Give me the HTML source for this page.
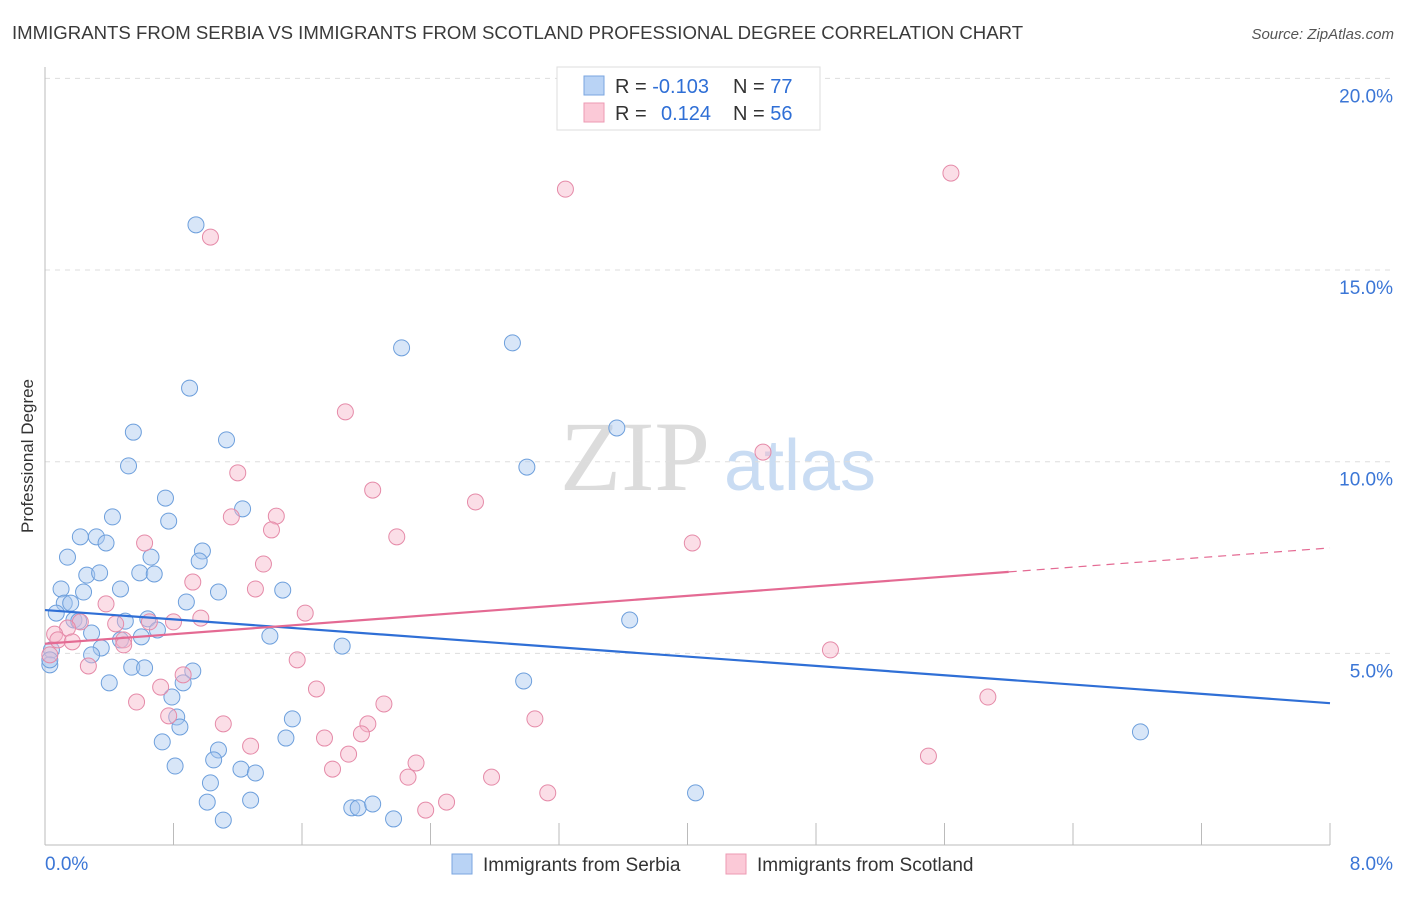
<!DOCTYPE html>
<html><head><meta charset="utf-8"><style>
body{margin:0;background:#fff;font-family:"Liberation Sans",sans-serif;}
svg text{font-family:"Liberation Sans",sans-serif;}
</style></head><body>
<svg id="chart" width="1406" height="892" viewBox="0 0 1406 892" xmlns="http://www.w3.org/2000/svg">
<text x="12" y="39" font-size="18.6" fill="#3a3a3a">IMMIGRANTS FROM SERBIA VS IMMIGRANTS FROM SCOTLAND PROFESSIONAL DEGREE CORRELATION CHART</text>
<text x="1394" y="39" font-size="15" fill="#555" text-anchor="end" font-style="italic">Source: ZipAtlas.com</text>
<text x="635" y="490" font-size="100" fill="#dcdcdc" text-anchor="middle" font-family="Liberation Serif" style="font-family:'Liberation Serif',serif">ZIP</text>
<text x="800" y="490" font-size="72" fill="#c9dcf3" text-anchor="middle">atlas</text>
<g id="grid"></g>
<g id="axes"></g>
<g id="marks"></g>
<text transform="translate(33,456) rotate(-90)" font-size="17" fill="#333" text-anchor="middle">Professional Degree</text>
<g>
<rect x="557" y="67" width="263" height="63" fill="#fff" stroke="#ddd"/>
<rect x="584" y="76" width="20" height="19" fill="#b9d3f5" stroke="#7aa6e0"/>
<rect x="584" y="103" width="20" height="19" fill="#fbc9d7" stroke="#ec9ab3"/>
<text x="615" y="93" font-size="20" fill="#333">R = <tspan fill="#2f6fd6">-0.103</tspan></text>
<text x="733" y="93" font-size="20" fill="#333">N = <tspan fill="#2f6fd6">77</tspan></text>
<text x="615" y="120" font-size="20" fill="#333">R = <tspan fill="#2f6fd6" x="661">0.124</tspan></text>
<text x="733" y="120" font-size="20" fill="#333">N = <tspan fill="#2f6fd6">56</tspan></text>
</g>
<g>
<rect x="452" y="854" width="20" height="20" fill="#b9d3f5" stroke="#7aa6e0"/>
<text x="483" y="871" font-size="19" fill="#333">Immigrants from Serbia</text>
<rect x="726" y="854" width="20" height="20" fill="#fbc9d7" stroke="#ec9ab3"/>
<text x="757" y="871" font-size="19" fill="#333">Immigrants from Scotland</text>
</g>
</svg>
<script>
const blueX=[0.94,0.90,0.55,0.52,1.13,0.75,0.77,1.23,0.42,0.22,0.32,0.38,0.14,0.66,0.98,0.96,0.26,0.34,0.59,0.68,0.10,0.47,0.12,0.16,0.88,1.08,1.48,0.24,0.07,0.18,0.21,0.50,0.64,0.70,0.29,0.47,0.60,1.40,1.85,0.35,0.29,0.04,0.03,0.54,0.62,0.92,0.40,0.86,0.79,0.82,0.84,1.54,0.73,1.50,1.08,1.05,0.81,1.22,1.31,1.03,1.01,1.28,2.22,2.91,3.56,3.00,3.64,2.98,6.82,4.05,1.91,1.95,2.04,2.17,1.11,0.03];
const blueY=[16.18,11.92,10.77,9.89,10.57,9.05,8.45,8.77,8.56,8.04,8.04,7.88,7.51,7.51,7.67,7.41,7.04,7.10,7.10,7.07,6.68,6.68,6.31,6.31,6.34,6.60,6.65,6.60,6.05,5.87,5.84,5.84,5.90,5.61,5.53,5.35,5.43,5.45,5.19,5.14,4.96,5.09,4.70,4.64,4.62,4.54,4.23,4.23,3.86,3.34,3.08,3.29,2.69,2.79,2.48,2.22,2.06,1.98,1.88,1.62,1.12,1.17,12.97,13.10,10.88,9.86,5.87,4.28,2.95,1.36,0.97,0.97,1.07,0.68,0.65,4.83];
const pinkX=[3.24,5.64,1.03,1.87,4.47,1.20,2.04,2.68,1.16,1.44,1.41,2.19,0.62,4.03,1.36,0.92,1.31,0.38,1.62,0.97,0.80,0.44,0.22,0.65,0.14,0.06,0.08,0.17,0.49,4.89,1.57,0.27,0.86,0.72,1.69,0.57,2.11,0.77,1.11,2.01,3.05,1.97,1.74,1.28,1.89,5.50,1.79,2.31,2.26,2.78,3.13,2.50,2.37,5.87,0.03,0.49];
const pinkY=[17.11,17.53,15.86,11.30,10.25,9.71,9.26,8.95,8.56,8.58,8.22,8.04,7.88,7.88,7.33,6.86,6.68,6.29,6.05,5.92,5.82,5.77,5.82,5.82,5.66,5.50,5.35,5.30,5.35,5.09,4.83,4.67,4.44,4.12,4.07,3.73,3.68,3.37,3.16,3.16,3.29,2.90,2.79,2.58,2.37,2.32,1.98,2.14,1.77,1.77,1.36,1.12,0.91,3.86,4.96,5.22];
const blueTrend=[6.13,3.70];
const pinkTrend=[5.25,7.75];
const pinkSolidEnd=6.0;
const yTicks=[5,10,15,20];
const yTickLabels=["5.0%","10.0%","15.0%","20.0%"];
const xTicks=[0,0.8,1.6,2.4,3.2,4.0,4.8,5.6,6.4,7.2,8.0];
const NS="http://www.w3.org/2000/svg";
const X=v=>45+v*(1285/8);
const Y=v=>845-v*38.33;
function mk(tag,attrs,parent){const e=document.createElementNS(NS,tag);for(const k in attrs)e.setAttribute(k,attrs[k]);parent.appendChild(e);return e;}
const grid=document.getElementById('grid'),axes=document.getElementById('axes'),marks=document.getElementById('marks');
yTicks.forEach((t,i)=>{
 const l=mk('line',{x1:45,x2:1394,y1:Y(t),y2:Y(t),stroke:'#ddd','stroke-dasharray':'5,5'},grid);
 
 
 const tx=mk('text',{x:1393,y:Y(t)+24,'font-size':19,fill:'#3b76d6','text-anchor':'end'},axes);
 tx.textContent=yTickLabels[i];
 
 
});
const ax=mk('line',{x1:45,x2:45,y1:67,y2:845,stroke:'#bbb'},axes);


const bx=mk('line',{x1:45,x2:1330,y1:845,y2:845,stroke:'#bbb'},axes);


xTicks.forEach(t=>{
 const l=mk('line',{x1:X(t),x2:X(t),y1:823,y2:845,stroke:'#bbb'},axes);
 
 
});
const xl0=mk('text',{x:45,y:870,'font-size':19,fill:'#3b76d6'},axes);xl0.textContent=xTicks[0].toFixed(1)+'%';


const xl1=mk('text',{x:1393,y:870,'font-size':19,fill:'#3b76d6','text-anchor':'end'},axes);xl1.textContent=xTicks[xTicks.length-1].toFixed(1)+'%';


function pts(xs,ys,fill,stroke,name){xs.forEach((x,i)=>{
 const c=mk('circle',{cx:X(x),cy:Y(ys[i]),r:8,fill:fill,'fill-opacity':0.45,stroke:stroke,'stroke-width':1},marks);
 
 
});}
pts(blueX,blueY,'#a9c8f0','#6d9fdc','serbia-point');
pts(pinkX,pinkY,'#f6b6ca','#e58aa8','scotland-point');
const bt=mk('line',{x1:X(0),y1:Y(blueTrend[0]),x2:X(8),y2:Y(blueTrend[1]),stroke:'#2f6fd6','stroke-width':2.2},marks);


const pm=pinkTrend[0]+(pinkTrend[1]-pinkTrend[0])*pinkSolidEnd/8;
const pt=mk('line',{x1:X(0),y1:Y(pinkTrend[0]),x2:X(pinkSolidEnd),y2:Y(pm),stroke:'#e46a93','stroke-width':2.2},marks);


const pd=mk('line',{x1:X(pinkSolidEnd),y1:Y(pm),x2:X(8),y2:Y(pinkTrend[1]),stroke:'#e46a93','stroke-width':1.2,'stroke-dasharray':'8,6'},marks);


</script>
</body></html>
